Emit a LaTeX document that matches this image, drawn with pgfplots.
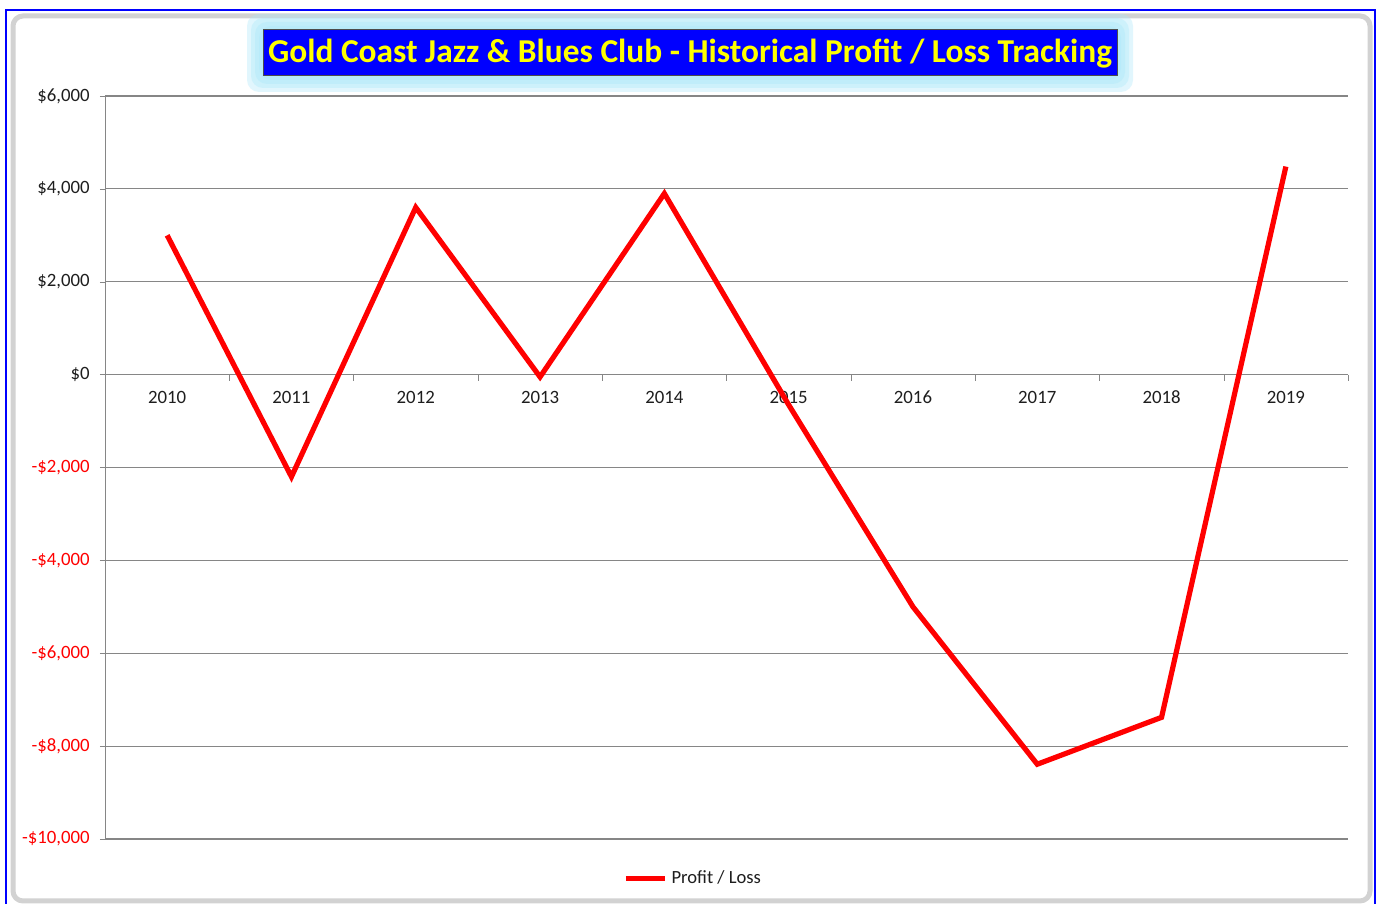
\documentclass[border=0pt]{standalone}
\usepackage{pgfplots}
\pgfplotsset{compat=1.18}
\usepackage{fontspec}
\setmainfont{Carlito}

\definecolor{gridgray}{RGB}{134,134,134}
\definecolor{glow}{RGB}{170,232,250}
\definecolor{ttlblue}{RGB}{0,0,255}
\definecolor{ttlyellow}{RGB}{255,255,0}
\definecolor{lblack}{RGB}{30,30,30}

\begin{document}
\begin{tikzpicture}[x=1pt,y=1pt]
  \useasboundingbox (0,0) rectangle (690.5,452);
  \fill[white] (0,0) rectangle (690.5,452);
  % window frame
  \draw[ttlblue, line width=1pt] (3,-2) -- (3,446.8) -- (687.6,446.8) -- (687.6,-2);
  \draw[gray!35, line width=2.5pt, rounded corners=5pt] (6.5,1.5) rectangle (685,444);

  % title glow + box
  \foreach \g in {8,6,4,2} {
    \fill[glow, opacity=0.35, rounded corners=6pt] (131.5-\g,414-\g) rectangle (558.5+\g,437+\g);
  }
  \fill[ttlblue] (131.5,414) rectangle (558.5,437);
  \draw[black!70, line width=0.5pt] (131.5,414) rectangle (558.5,437);
  \node[text=ttlyellow, font=\fontsize{16.7}{19}\selectfont\bfseries, inner sep=0pt] at (345,425.3)
    {Gold Coast Jazz \& Blues Club - Historical Profit / Loss Tracking};

  \begin{axis}[
      at={(52.5pt,32.5pt)}, anchor=south west,
      scale only axis, width=621.5pt, height=371.5pt,
      xmin=-0.5, xmax=9.5, ymin=-10000, ymax=6000,
      axis x line=middle, axis y line=left,
      axis line style={draw=gridgray, -},
      tick align=outside,
      xtick={0,...,9},
      xticklabels={2010,2011,2012,2013,2014,2015,2016,2017,2018,2019},
      major x tick style={draw=none},
      minor xtick={-0.5,0.5,...,9.5},
      minor tick length=3pt,
      minor x tick style={gridgray},
      ytick={-10000,-8000,...,6000},
      major tick length=2.5pt,
      y tick style={gridgray},
      ymajorgrids, grid style={gridgray, line width=0.6pt},
      /pgf/number format/assume math mode=true,
      tick label style={font=\fontsize{9.4}{11}\selectfont, text=lblack},
      xticklabel style={yshift=-2.3pt, text height=6pt, text depth=0pt},
      yticklabel style={xshift=-1.6pt},
      yticklabel={\pgfmathsetmacro\v{abs(\tick)}\ifdim\tick pt<0pt\textcolor{red}{-\$\pgfmathprintnumber[fixed,precision=0,1000 sep={,}]{\v}}\else\$\pgfmathprintnumber[fixed,precision=0,1000 sep={,}]{\v}\fi},
      scaled y ticks=false,
      legend style={at={(0.474,-0.0535)}, anchor=center, draw=none, fill=none,
        font=\fontsize{9.3}{11}\selectfont, text=lblack, inner sep=1pt},
      legend image code/.code={\draw[#1] (0pt,0pt) -- (19.5pt,0pt);},
      legend cell align=left,
      clip=false,
    ]
    \addplot[red, line width=2.6pt, line join=miter] coordinates {
      (0,3000) (1,-2200) (2,3600) (3,-50) (4,3900)
      (5,-650) (6,-5000) (7,-8390) (8,-7380) (9,4480)
    };
    \legend{Profit / Loss}
  \end{axis}
\end{tikzpicture}
\end{document}
